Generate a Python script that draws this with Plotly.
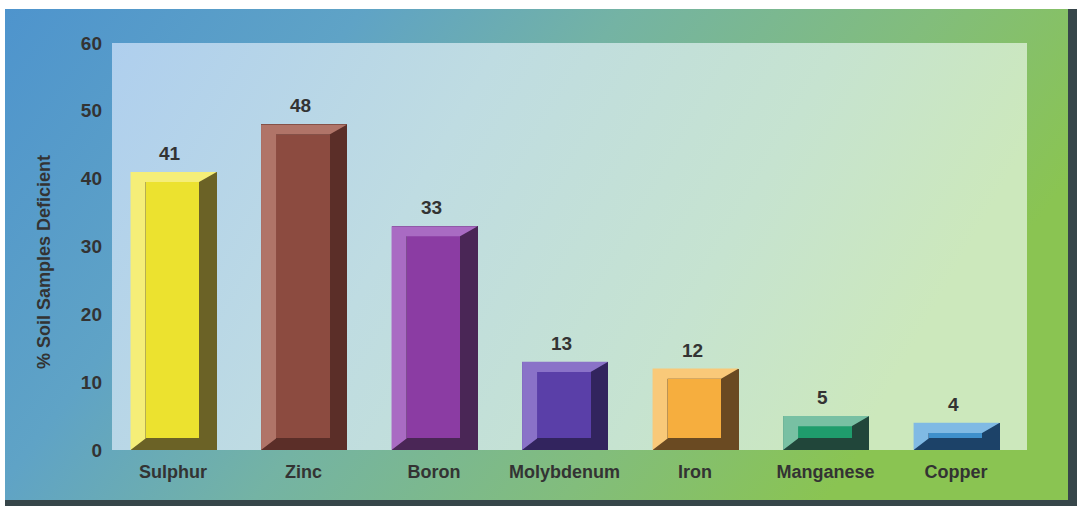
import base64
import plotly.graph_objects as go

# ---- data ----
categories = ["Sulphur", "Zinc", "Boron", "Molybdenum", "Iron", "Manganese", "Copper"]
values = [41, 48, 33, 13, 12, 5, 4]
y_ticks = [0, 10, 20, 30, 40, 50, 60]

face_colors = ["#ECE22F", "#8C4B40", "#8B3CA3", "#5A3FA8", "#F6AE3E", "#1F9C6C", "#3F90CC"]
light_colors = ["#F5EE78", "#B07468", "#A96BC3", "#8A72C8", "#F9C979", "#78C0A3", "#80BAE4"]
dark_colors = ["#6B6226", "#5B2E28", "#4A2656", "#32245E", "#6A4A22", "#21463A", "#1C4268"]

# ---- geometry constants (category units / value units) ----
BAR_OFF = -0.325
BAR_W = 0.66
LEFT_BEVEL = 0.115
FACE_W = 0.41
TOP_BEVEL = 1.5
BOT_BEVEL = 1.7

W, H = 1077, 506
L, R, T, B = 112, 50, 43, 56
TEXT = "#333333"
FONT = "Liberation Sans"


def svg_uri(stops, x2=1, y2=0):
    st = "".join(f'<stop offset="{o}" stop-color="{c}"/>' for o, c in stops)
    svg = (
        '<svg xmlns="http://www.w3.org/2000/svg" width="100" height="100" preserveAspectRatio="none" viewBox="0 0 100 100">'
        f'<defs><linearGradient id="g" x1="0" y1="0" x2="{x2}" y2="{y2}">{st}</linearGradient></defs>'
        '<rect x="0" y="0" width="100" height="100" fill="url(#g)"/></svg>'
    )
    return "data:image/svg+xml;base64," + base64.b64encode(svg.encode()).decode()


outer = svg_uri([(0, "#4E94CD"), (0.3, "#5FA3C6"), (0.52, "#74B3A4"), (0.78, "#82BD7C"), (1, "#8AC452")], 1, 0.35)
inner = svg_uri([(0, "#AFCFEE"), (0.4, "#BFDCE2"), (0.75, "#C6E3D0"), (1, "#CCE8BC")], 1, 0.25)

idx = list(range(len(categories)))
fig = go.Figure()

# full bar (dark side / bottom)
fig.add_trace(go.Bar(
    x=idx, y=values, width=BAR_W, offset=BAR_OFF,
    marker=dict(color=dark_colors, line=dict(width=0)),
    hoverinfo="x+y", showlegend=False,
))

# light bevel (left + top)
for i, v in enumerate(values):
    s = i + BAR_OFF
    e = s + BAR_W
    xl = s + LEFT_BEVEL
    xr = xl + FACE_W
    yt = v - TOP_BEVEL
    yb = BOT_BEVEL
    fig.add_trace(go.Scatter(
        x=[s, s, e, xr, xl, xl, s],
        y=[0, v, v, yt, yt, yb, 0],
        fill="toself", fillcolor=light_colors[i], mode="lines",
        line=dict(width=0, color=light_colors[i]),
        hoverinfo="skip", showlegend=False,
    ))

# front face
fig.add_trace(go.Bar(
    x=idx, y=[v - TOP_BEVEL - BOT_BEVEL for v in values], base=BOT_BEVEL,
    width=FACE_W, offset=BAR_OFF + LEFT_BEVEL,
    marker=dict(color=face_colors, line=dict(width=0)),
    hoverinfo="skip", showlegend=False,
))

# value labels
for i, v in enumerate(values):
    fig.add_annotation(x=i - 0.02, y=v, text=str(v), showarrow=False, yanchor="bottom", yshift=6,
                       font=dict(family=FONT, size=19, color=TEXT, weight="bold"))

# y title
fig.add_annotation(xref="paper", yref="paper", x=(44 - L) / (W - L - R), y=(H - B - 262) / (H - T - B),
                   text="% Soil Samples Deficient", textangle=-90, showarrow=False,
                   xanchor="center", yanchor="middle",
                   font=dict(family=FONT, size=18, color=TEXT, weight="bold"))

pw = W - L - R
ph = H - T - B
fig.add_layout_image(dict(source=outer, xref="paper", yref="paper",
                          x=(5 - L) / pw, y=(H - B - 9) / ph, sizex=(1068 - 5) / pw, sizey=(500 - 9) / ph,
                          sizing="stretch", xanchor="left", yanchor="top", layer="below"))
fig.add_layout_image(dict(source=inner, xref="paper", yref="paper",
                          x=0, y=1, sizex=1, sizey=1,
                          sizing="stretch", xanchor="left", yanchor="top", layer="below"))

# dark frame edges
fig.add_shape(type="rect", xref="paper", yref="paper", x0=(5 - L) / pw, x1=(W - L) / pw,
              y0=(H - B - H) / ph, y1=(H - B - 500) / ph, fillcolor="#37464A", line=dict(width=0), layer="below")
fig.add_shape(type="rect", xref="paper", yref="paper", x0=(1068 - L) / pw, x1=(W - L) / pw,
              y0=(H - B - H) / ph, y1=(H - B - 9) / ph, fillcolor="#37464A", line=dict(width=0), layer="below")

fig.update_layout(
    width=W, height=H,
    margin=dict(l=L, r=R, t=T, b=B),
    paper_bgcolor="white", plot_bgcolor="rgba(0,0,0,0)",
    barmode="overlay", bargap=0,
    font=dict(family=FONT, color=TEXT),
    xaxis=dict(range=[-0.467, 6.544], tickvals=idx, ticktext=categories,
               showgrid=False, zeroline=False, showline=False, ticks="",
               ticklabelstandoff=9,
               tickfont=dict(family=FONT, size=18, color=TEXT, weight="bold")),
    yaxis=dict(range=[0, 60], tickvals=y_ticks, showgrid=False, zeroline=False, showline=False,
               ticks="", ticklabelstandoff=9,
               tickfont=dict(family=FONT, size=19, color=TEXT, weight="bold")),
)

fig.write_html("out.html", config={"displayModeBar": False},
               post_script="document.body.style.margin='0';document.body.style.overflow='hidden';")
